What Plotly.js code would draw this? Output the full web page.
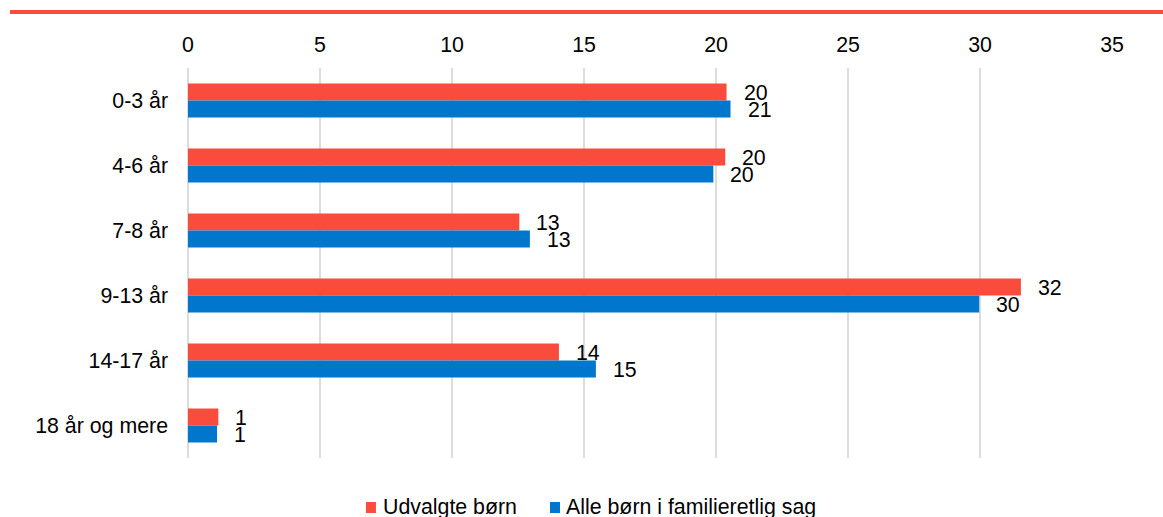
<!DOCTYPE html>
<html>
<head>
<meta charset="utf-8">
<script src="https://cdn.plot.ly/plotly-3.0.1.min.js"></script>
<style>html,body{margin:0;padding:0;background:#fff;}#chart{width:1163px;height:517px;}</style>
</head>
<body>
<div id="chart"></div>
<script>
const categories = ["0-3 år", "4-6 år", "7-8 år", "9-13 år", "14-17 år", "18 år og mere"];
const udvalgte = [20.4, 20.35, 12.55, 31.55, 14.05, 1.15];
const alle = [20.55, 19.9, 12.95, 29.97, 15.45, 1.1];
const seriesNames = ["Udvalgte børn", "Alle børn i familieretlig sag"];
const xTicks = [0, 5, 10, 15, 20, 25, 30, 35];

const RED = "#F94C3C";
const BLUE = "#0076CC";
const FONT = "Liberation Sans, Arial, sans-serif";
const FS = 21.33;
const colors = [RED, BLUE];

const traces = [
  {type: "bar", orientation: "h", name: seriesNames[0], y: categories, x: udvalgte,
   marker: {color: RED}, showlegend: false},
  {type: "bar", orientation: "h", name: seriesNames[1], y: categories, x: alle,
   marker: {color: BLUE}, showlegend: false}
];

const annotations = [];
categories.forEach((c, i) => {
  annotations.push({x: udvalgte[i], y: c, xref: "x", yref: "y", text: String(Math.round(udvalgte[i])),
    showarrow: false, xanchor: "left", yanchor: "middle", xshift: 15, yshift: 8,
    font: {family: FONT, size: FS, color: "#000"}});
  annotations.push({x: alle[i], y: c, xref: "x", yref: "y", text: String(Math.round(alle[i])),
    showarrow: false, xanchor: "left", yanchor: "middle", xshift: 15, yshift: -9,
    font: {family: FONT, size: FS, color: "#000"}});
});

// custom legend (square + label), positioned in paper coordinates
const legendSquareX = [0.1926, 0.3918];
const legendTextX = [0.2095, 0.4075];
const shapes = [{type: "line", xref: "paper", yref: "paper", x0: -0.1926, x1: 1.06, y0: 1.1436, y1: 1.1436,
    line: {color: RED, width: 4}}];
seriesNames.forEach((n, i) => {
  shapes.push({type: "rect", xref: "paper", yref: "paper", x0: legendSquareX[i], x1: legendSquareX[i] + 0.0108,
    y0: -0.141, y1: -0.1128, fillcolor: colors[i], line: {width: 0}});
  annotations.push({xref: "paper", yref: "paper", x: legendTextX[i], y: -0.1244, text: n, showarrow: false,
    xanchor: "left", yanchor: "middle", borderpad: 0, font: {family: FONT, size: FS, color: "#000"}});
});

const layout = {
  width: 1163, height: 517,
  margin: {l: 188, r: 51, t: 68, b: 59},
  paper_bgcolor: "#fff", plot_bgcolor: "#fff",
  font: {family: FONT, size: FS, color: "#000"},
  barmode: "group", bargap: 0.477, bargroupgap: 0,
  xaxis: {side: "top", range: [0, 35], tickvals: xTicks, showgrid: true, gridcolor: "#dcdcdc", gridwidth: 2,
    zeroline: true, zerolinecolor: "#dcdcdc", zerolinewidth: 2, showline: false, ticks: "",
    ticklabelstandoff: 11, tickfont: {family: FONT, size: FS, color: "#000"}, fixedrange: true},
  yaxis: {autorange: "reversed", type: "category", showgrid: false, zeroline: false, showline: false, ticks: "",
    ticklabelstandoff: 19, tickfont: {family: FONT, size: FS, color: "#000"}, fixedrange: true},
  showlegend: false,
  shapes: shapes,
  annotations: annotations
};

Plotly.newPlot("chart", traces, layout, {displayModeBar: false, staticPlot: true});
</script>
</body>
</html>
